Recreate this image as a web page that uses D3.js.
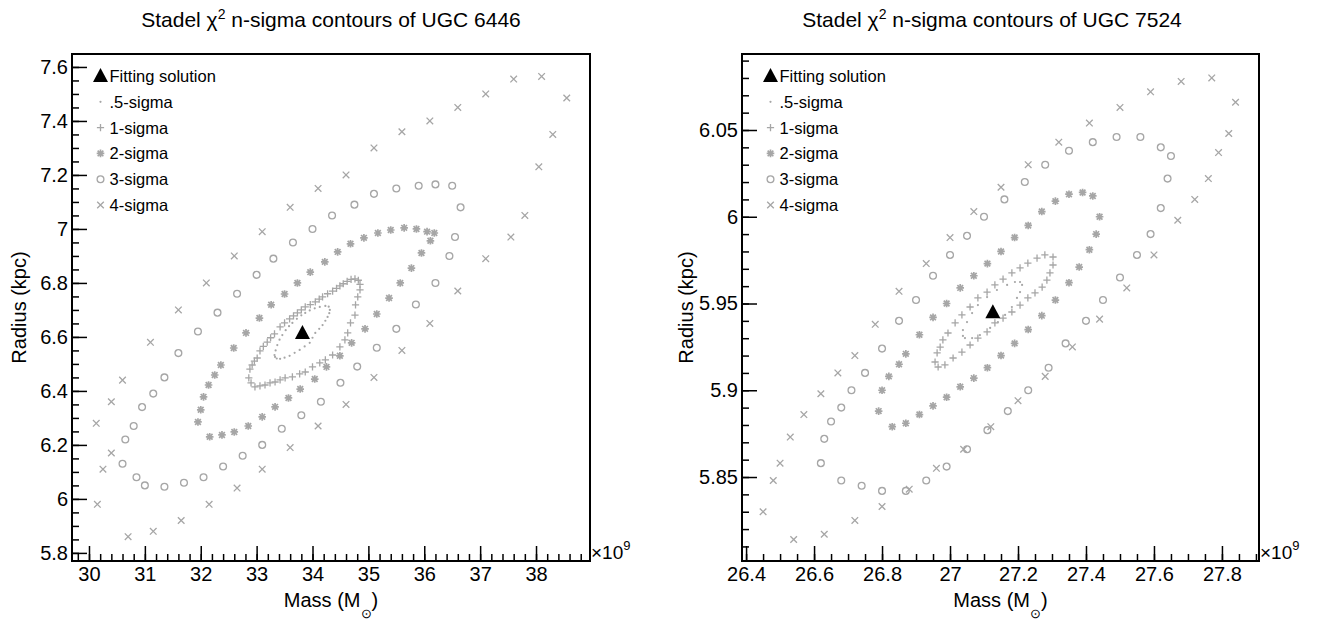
<!DOCTYPE html>
<html>
<head>
<meta charset="utf-8">
<script src="https://cdn.jsdelivr.net/npm/d3@7"></script>
<style>
body { margin: 0; background: #fff; }
text { font-family: "Liberation Sans", Arial, Helvetica, sans-serif; }
</style>
</head>
<body>
<svg id="canvas" width="1319" height="621"></svg>
<script>
// ---- data (mass in units of 1e9 Msun, radius in kpc) ----
var legendLabels = ["Fitting solution", ".5-sigma", "1-sigma", "2-sigma", "3-sigma", "4-sigma"];

// UGC 6446
var ugc6446Fit = [33.82, 6.615];
var ugc6446Half = [
  [33.32,6.533],[33.34,6.55],[33.37,6.57],[33.41,6.59],[33.46,6.607],[33.52,6.625],[33.58,6.64],[33.64,6.652],
  [33.72,6.667],[33.8,6.68],[33.87,6.689],[33.95,6.698],[34.04,6.706],[34.13,6.711],[34.23,6.715],[34.29,6.712],
  [34.31,6.70],[34.3,6.688],[34.27,6.674],[34.23,6.66],[34.18,6.644],[34.12,6.63],[34.05,6.615],[34.0,6.597],
  [33.95,6.578],[33.86,6.565],[33.77,6.552],[33.68,6.541],[33.59,6.53],[33.5,6.523],[33.42,6.519],[33.36,6.52],[33.33,6.526]
];
var ugc6446One = [
  [32.86,6.448],[32.88,6.481],[32.92,6.496],[32.96,6.51],[33.01,6.522],[33.06,6.548],[33.12,6.565],[33.19,6.581],
  [33.25,6.597],[33.32,6.611],[33.42,6.637],[33.5,6.652],[33.59,6.667],[33.66,6.678],[33.73,6.689],[33.8,6.7],
  [33.87,6.711],[33.96,6.72],[34.05,6.73],[34.12,6.74],[34.18,6.748],[34.27,6.76],[34.36,6.77],[34.43,6.78],
  [34.49,6.789],[34.55,6.797],[34.62,6.806],[34.69,6.813],[34.76,6.815],[34.82,6.81],[34.85,6.795],[34.85,6.774],
  [34.81,6.748],[34.77,6.719],[34.76,6.681],[34.68,6.652],[34.63,6.615],[34.58,6.589],[34.49,6.563],[34.36,6.533],
  [34.23,6.515],[34.13,6.504],[34.0,6.489],[33.87,6.47],[33.77,6.463],[33.64,6.452],[33.51,6.448],[33.42,6.441],
  [33.33,6.433],[33.24,6.43],[33.15,6.422],[33.06,6.419],[32.97,6.415],[32.9,6.43]
];
var ugc6446Two = [
  [31.95,6.285],[32.0,6.33],[32.05,6.378],[32.14,6.422],[32.25,6.459],[32.36,6.496],[32.59,6.559],[32.81,6.615],
  [33.05,6.67],[33.26,6.719],[33.5,6.759],[33.73,6.8],[33.96,6.84],[34.22,6.878],[34.45,6.915],[34.68,6.945],
  [34.92,6.967],[35.17,6.985],[35.4,6.996],[35.64,7.004],[35.86,7.0],[36.05,6.99],[36.18,6.985],[36.11,6.956],
  [35.95,6.911],[35.77,6.855],[35.57,6.8],[35.37,6.744],[35.15,6.685],[34.94,6.63],[34.7,6.578],[34.49,6.53],
  [34.25,6.489],[34.04,6.444],[33.78,6.407],[33.57,6.374],[33.33,6.341],[33.1,6.304],[32.85,6.27],[32.6,6.248],
  [32.38,6.237],[32.16,6.23]
];
var ugc6446Three = [
  [30.6,6.13],[30.65,6.22],[30.8,6.27],[30.95,6.34],[31.15,6.39],[31.35,6.45],[31.6,6.54],[31.95,6.62],[32.3,6.69],
  [32.65,6.76],[33.0,6.83],[33.3,6.89],[33.65,6.95],[34.0,7.0],[34.35,7.05],[34.75,7.09],[35.1,7.13],[35.5,7.15],
  [35.9,7.16],[36.2,7.165],[36.5,7.16],[36.65,7.08],[36.55,6.97],[36.45,6.9],[36.2,6.8],[35.85,6.72],[35.5,6.63],
  [35.15,6.56],[34.8,6.49],[34.5,6.43],[34.15,6.36],[33.8,6.31],[33.45,6.26],[33.1,6.2],[32.75,6.16],[32.4,6.12],
  [32.05,6.08],[31.7,6.06],[31.35,6.045],[31.0,6.05],[30.85,6.08]
];
var ugc6446Four = [
  [30.15,5.98],[30.25,6.11],[30.4,6.17],[30.13,6.28],[30.4,6.36],[30.6,6.44],[31.1,6.58],[31.6,6.7],[32.1,6.8],
  [32.6,6.9],[33.1,6.99],[33.6,7.08],[34.1,7.15],[34.6,7.2],[35.1,7.3],[35.6,7.36],[36.1,7.4],[36.6,7.45],
  [37.1,7.5],[37.6,7.555],[38.1,7.565],[38.55,7.485],[38.3,7.35],[38.05,7.23],[37.8,7.05],[37.55,6.97],[37.1,6.89],
  [36.6,6.77],[36.1,6.65],[35.6,6.55],[35.1,6.45],[34.6,6.35],[34.1,6.27],[33.6,6.19],[33.1,6.11],[32.65,6.04],
  [32.15,5.98],[31.65,5.92],[31.15,5.88],[30.7,5.86]
];
var ugc6446XTicks = [30, 31, 32, 33, 34, 35, 36, 37, 38];
var ugc6446YTicks = [5.8, 6, 6.2, 6.4, 6.6, 6.8, 7, 7.2, 7.4, 7.6];

// UGC 7524
var ugc7524Fit = [27.126, 5.945];
var ugc7524Half = [
  [27.038,5.9347],[27.05,5.9393],[27.065,5.9445],[27.082,5.9491],[27.109,5.9537],[27.138,5.9578],[27.168,5.9607],
  [27.191,5.9624],[27.206,5.9624],[27.212,5.9607],[27.206,5.9566],[27.197,5.9532],[27.182,5.948],[27.162,5.9434],
  [27.141,5.9393],[27.118,5.9359],[27.088,5.9318],[27.065,5.9301],[27.044,5.9301],[27.038,5.9313]
];
var ugc7524One = [
  [26.956,5.9163],[26.962,5.9215],[26.971,5.9249],[26.979,5.929],[26.994,5.933],[27.015,5.9388],[27.035,5.9434],
  [27.059,5.948],[27.082,5.9532],[27.109,5.9566],[27.132,5.9607],[27.156,5.9641],[27.182,5.9676],[27.206,5.9705],
  [27.229,5.9733],[27.256,5.9762],[27.279,5.978],[27.303,5.9768],[27.303,5.9722],[27.294,5.9676],[27.285,5.9635],
  [27.271,5.9595],[27.25,5.9561],[27.229,5.9532],[27.206,5.9491],[27.182,5.9451],[27.156,5.9416],[27.132,5.9388],
  [27.109,5.9336],[27.082,5.9301],[27.059,5.9261],[27.035,5.922],[27.009,5.9186],[26.985,5.9146],[26.965,5.9134]
];
var ugc7524Two = [
  [26.79,5.888],[26.8,5.9],[26.82,5.908],[26.85,5.915],[26.87,5.921],[26.91,5.932],[26.95,5.942],[26.99,5.95],
  [27.03,5.959],[27.07,5.966],[27.11,5.973],[27.15,5.98],[27.19,5.988],[27.23,5.995],[27.27,6.003],[27.31,6.009],
  [27.35,6.013],[27.39,6.014],[27.42,6.012],[27.44,6.0],[27.43,5.99],[27.41,5.981],[27.38,5.971],[27.35,5.962],
  [27.31,5.952],[27.27,5.943],[27.23,5.935],[27.19,5.927],[27.15,5.92],[27.11,5.913],[27.07,5.907],[27.03,5.902],
  [26.99,5.896],[26.95,5.891],[26.91,5.886],[26.87,5.881],[26.83,5.879]
];
var ugc7524Three = [
  [26.62,5.858],[26.63,5.872],[26.65,5.882],[26.68,5.89],[26.71,5.9],[26.75,5.91],[26.8,5.924],[26.85,5.94],
  [26.9,5.952],[26.95,5.966],[27.0,5.978],[27.05,5.989],[27.1,6.0],[27.16,6.01],[27.22,6.02],[27.28,6.03],
  [27.35,6.038],[27.42,6.043],[27.49,6.046],[27.56,6.046],[27.62,6.04],[27.65,6.035],[27.64,6.022],[27.62,6.005],
  [27.59,5.99],[27.55,5.978],[27.5,5.965],[27.45,5.952],[27.4,5.94],[27.34,5.927],[27.29,5.913],[27.23,5.9],
  [27.17,5.888],[27.11,5.877],[27.05,5.866],[26.99,5.856],[26.93,5.848],[26.87,5.842],[26.8,5.842],[26.74,5.845],
  [26.68,5.848]
];
var ugc7524Four = [
  [26.45,5.83],[26.48,5.848],[26.5,5.858],[26.53,5.873],[26.57,5.886],[26.62,5.898],[26.67,5.91],[26.72,5.92],
  [26.78,5.938],[26.85,5.957],[26.93,5.973],[27.0,5.988],[27.07,6.003],[27.15,6.017],[27.23,6.03],[27.32,6.043],
  [27.41,6.054],[27.5,6.063],[27.59,6.072],[27.68,6.078],[27.77,6.08],[27.84,6.066],[27.82,6.048],[27.79,6.037],
  [27.76,6.022],[27.72,6.01],[27.67,5.998],[27.6,5.978],[27.52,5.959],[27.44,5.941],[27.36,5.925],[27.28,5.908],
  [27.2,5.894],[27.12,5.879],[27.04,5.866],[26.96,5.855],[26.88,5.843],[26.8,5.833],[26.72,5.825],[26.63,5.817],
  [26.54,5.814]
];
var ugc7524XTicks = [26.4, 26.6, 26.8, 27, 27.2, 27.4, 27.6, 27.8];
var ugc7524YTicks = [5.85, 5.9, 5.95, 6, 6.05];

// ---- drawing ----
var svg = d3.select("#canvas");
svg.append("rect").attr("width", 1319).attr("height", 621).attr("fill", "#fff");
var grey = "#a6a6a6";

function markerPath(kind, s) {
  var plus = "M" + (-s) + ",0H" + s + "M0," + (-s) + "V" + s;
  var c = s * 0.75;
  var cross = "M" + (-c) + "," + (-c) + "L" + c + "," + c + "M" + (-c) + "," + c + "L" + c + "," + (-c);
  if (kind == "plus") return plus;
  if (kind == "cross") return "M" + (-s) + "," + (-s) + "L" + s + "," + s + "M" + (-s) + "," + s + "L" + s + "," + (-s);
  if (kind == "star") return plus + cross;
  return "";
}

function drawMarkers(g, pts, kind, x, y) {
  var sel = g.append("g").selectAll("g").data(pts).enter().append("g")
      .attr("transform", function(d) { return "translate(" + x(d[0]) + "," + y(d[1]) + ")"; });
  if (kind == "dot") {
    sel.append("circle").attr("r", 1.1).attr("fill", grey);
  } else if (kind == "circle") {
    sel.append("circle").attr("r", 3.4).attr("fill", "none").attr("stroke", grey).attr("stroke-width", 1.3);
  } else if (kind == "tri") {
    sel.append("path").attr("d", "M0,-8L7.5,6L-7.5,6Z").attr("fill", "#000");
  } else {
    var s = kind == "cross" ? 3.3 : (kind == "plus" ? 3.6 : 3.8);
    sel.append("path").attr("d", markerPath(kind, s)).attr("fill", "none")
      .attr("stroke", grey).attr("stroke-width", kind == "star" ? 1.7 : 1.3);
  }
}

function fmt(d) { return String(+d.toFixed(3)); }

function drawPanel(p) {
  var g = svg.append("g").attr("transform", "translate(" + p.left + "," + p.top + ")");
  var x = d3.scaleLinear().domain(p.xDomain).range([0, p.width]);
  var y = d3.scaleLinear().domain(p.yDomain).range([p.height, 0]);

  var clipId = "clip" + p.left;
  g.append("clipPath").attr("id", clipId).append("rect").attr("width", p.width).attr("height", p.height);
  var plot = g.append("g").attr("clip-path", "url(#" + clipId + ")");

  drawMarkers(plot, p.four, "cross", x, y);
  drawMarkers(plot, p.three, "circle", x, y);
  drawMarkers(plot, p.two, "star", x, y);
  drawMarkers(plot, p.one, "plus", x, y);
  drawMarkers(plot, p.half, "dot", x, y);
  drawMarkers(plot, [p.fit], "tri", x, y);

  // minor ticks
  g.append("g").attr("transform", "translate(0," + p.height + ")")
    .call(d3.axisBottom(x).tickValues(p.xMinor).tickSize(-7).tickFormat(""))
    .call(function(a) { a.select(".domain").remove(); });
  g.append("g")
    .call(d3.axisLeft(y).tickValues(p.yMinor).tickSize(-7).tickFormat(""))
    .call(function(a) { a.select(".domain").remove(); });
  // major ticks
  var xa = g.append("g").attr("transform", "translate(0," + p.height + ")")
    .call(d3.axisBottom(x).tickValues(p.xTicks).tickSize(-15).tickPadding(6).tickFormat(fmt));
  var ya = g.append("g")
    .call(d3.axisLeft(y).tickValues(p.yTicks).tickSize(-15).tickPadding(4).tickFormat(fmt));
  [xa, ya].forEach(function(a) {
    a.select(".domain").remove();
    a.selectAll("text").attr("font-size", 20).attr("fill", "#000")
      .attr("font-family", "Liberation Sans, Arial, sans-serif");
  });
  g.selectAll(".tick line").attr("stroke", "#000").attr("stroke-width", 1.5);

  // frame
  g.append("rect").attr("width", p.width).attr("height", p.height)
    .attr("fill", "none").attr("stroke", "#000").attr("stroke-width", 2);

  // x10^9
  var e = g.append("text").attr("x", p.width + 1).attr("y", p.height - 2).attr("font-size", 19);
  e.append("tspan").text("\u00d710");
  e.append("tspan").attr("font-size", 13).attr("dy", -9).text("9");

  // axis titles
  var xt = g.append("text").attr("x", p.width / 2).attr("y", p.height + 46)
    .attr("text-anchor", "middle").attr("font-size", 20);
  xt.append("tspan").text("Mass (M");
  xt.append("tspan").attr("font-size", 13).attr("dy", 11).text("\u2299");
  xt.append("tspan").attr("dy", -11).text(")");
  g.append("text").attr("transform", "translate(" + p.yTitleX + "," + (p.height / 2) + ") rotate(-90)")
    .attr("text-anchor", "middle").attr("font-size", 20).text("Radius (kpc)");

  // title
  var t = svg.append("text").attr("x", p.titleX).attr("y", 27).attr("text-anchor", "middle").attr("font-size", 21);
  t.append("tspan").text("Stadel \u03c7");
  t.append("tspan").attr("font-size", 14).attr("dy", -8).text("2");
  t.append("tspan").attr("dy", 8).text(" n-sigma contours of " + p.name);

  // legend
  var kinds = ["tri", "dot", "plus", "star", "circle", "cross"];
  var lg = g.append("g").attr("transform", "translate(" + p.legendX + ",0)");
  kinds.forEach(function(k, i) {
    var ly = 22 + i * 25.8;
    drawMarkers(lg, [[0, 0]], k, function() { return 0; }, function() { return ly; });
    lg.append("text").attr("x", 9).attr("y", ly + 6).attr("font-size", 16.5).text(legendLabels[i]);
  });
}

drawPanel({
  name: "UGC 6446", left: 72, top: 54, width: 518, height: 507,
  xDomain: [29.696, 38.966], yDomain: [5.770, 7.648],
  xTicks: ugc6446XTicks, yTicks: ugc6446YTicks,
  xMinor: d3.range(149, 195).map(function(i) { return i / 5; }),
  yMinor: d3.range(116, 153).map(function(i) { return i / 20; }),
  fit: ugc6446Fit, half: ugc6446Half, one: ugc6446One, two: ugc6446Two, three: ugc6446Three, four: ugc6446Four,
  titleX: 331, legendX: 28.5, yTitleX: -46
});

drawPanel({
  name: "UGC 7524", left: 742, top: 54, width: 517, height: 507,
  xDomain: [26.388, 27.909], yDomain: [5.8016, 6.0938],
  xTicks: ugc7524XTicks, yTicks: ugc7524YTicks,
  xMinor: d3.range(528, 559).map(function(i) { return i / 20; }),
  yMinor: d3.range(581, 610).map(function(i) { return i / 100; }),
  fit: ugc7524Fit, half: ugc7524Half, one: ugc7524One, two: ugc7524Two, three: ugc7524Three, four: ugc7524Four,
  titleX: 992, legendX: 28.5, yTitleX: -49
});
</script>
</body>
</html>
